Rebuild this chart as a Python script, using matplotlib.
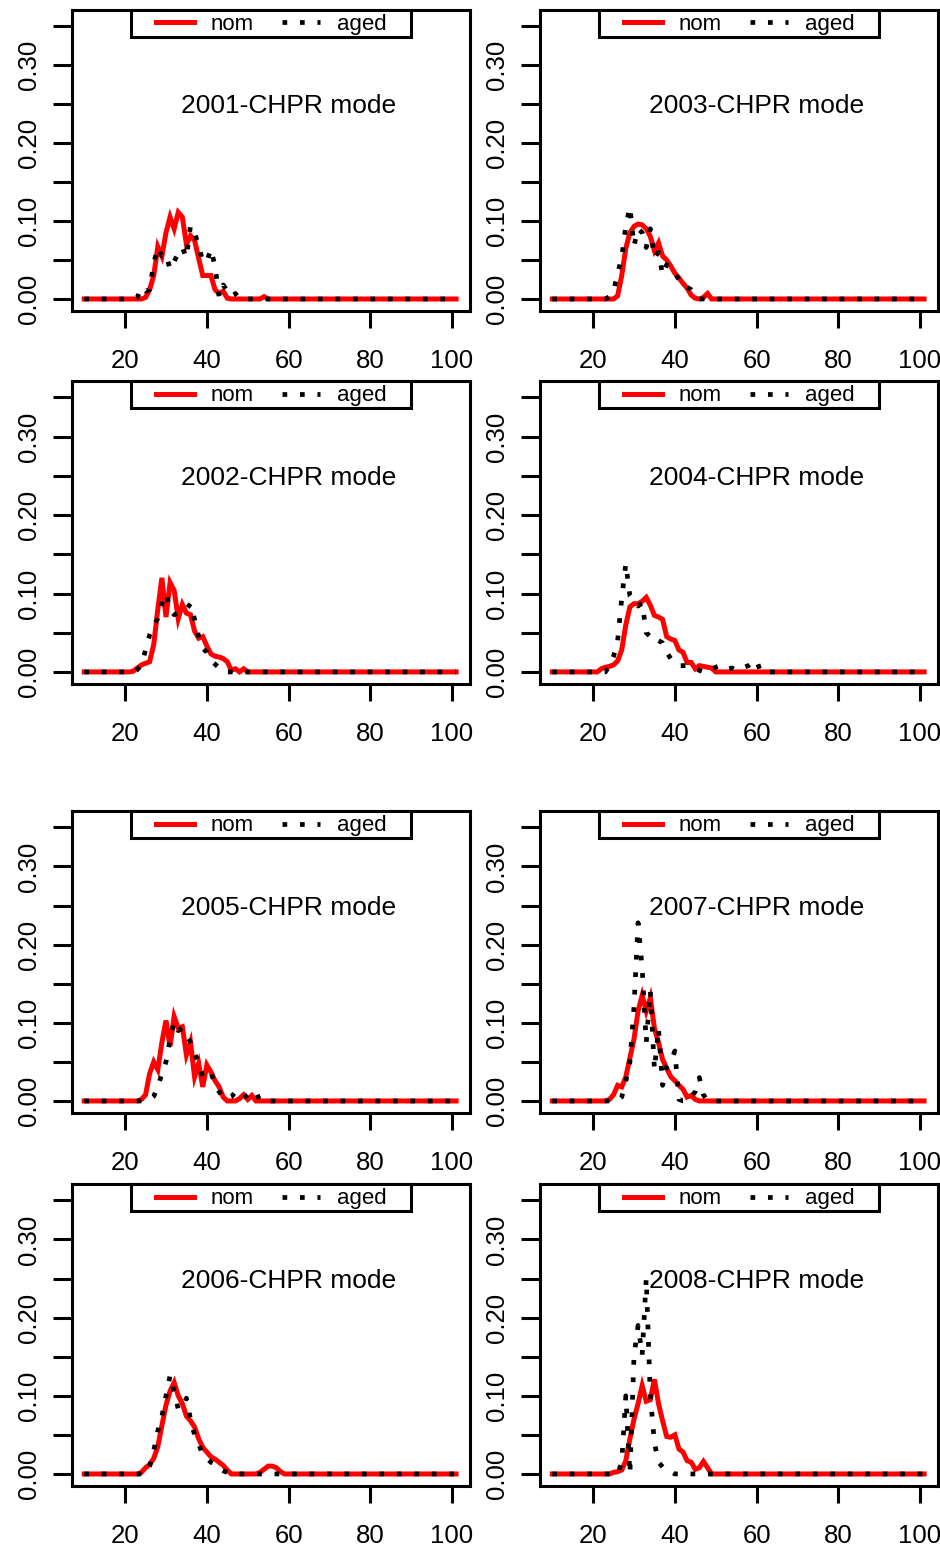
import numpy as np
import matplotlib
matplotlib.use('Agg')
import matplotlib.pyplot as plt
from matplotlib.patches import Rectangle

# length bins 10..101, values read for 20..60 (zero outside)
lengths = np.arange(10, 102)

nom_2001 = [0, 0, 0, 0, 0, 0.002, 0.012, 0.03, 0.067, 0.055, 0.085, 0.105, 0.09, 0.111, 0.105,
            0.07, 0.081, 0.075, 0.052, 0.03, 0.03, 0.03, 0.012, 0.007, 0.01, 0.001, 0, 0, 0, 0,
            0, 0, 0, 0, 0.003, 0, 0, 0, 0, 0, 0]
aged_2001 = [0, 0, 0, 0.002, 0.015, 0.01, 0.012, 0.046, 0.066, 0.055, 0.058, 0.038, 0.048, 0.059,
             0.066, 0.053, 0.094, 0.085, 0.068, 0.048, 0.048, 0.064, 0.042, 0.003, 0.018, 0.01,
             0.003, 0.007, 0, 0, 0, 0, 0, 0, 0, 0, 0, 0, 0, 0, 0]

nom_2003 = [0, 0, 0, 0, 0, 0, 0.004, 0.03, 0.065, 0.085, 0.093, 0.096, 0.095, 0.09, 0.08, 0.062,
            0.072, 0.055, 0.05, 0.042, 0.033, 0.027, 0.02, 0.014, 0.005, 0.001, 0, 0.002, 0.007,
            0, 0, 0, 0, 0, 0, 0, 0, 0, 0, 0, 0]
aged_2003 = [0, 0, 0, 0, 0.003, 0.01, 0.033, 0.053, 0.094, 0.118, 0.068, 0.09, 0.085, 0.066, 0.09,
             0.053, 0.06, 0.031, 0.044, 0.04, 0.033, 0.025, 0.016, 0.015, 0.012, 0.005, 0, 0, 0,
             0, 0, 0, 0, 0, 0, 0, 0, 0, 0, 0, 0]

nom_2002 = [0, 0, 0.001, 0.005, 0.009, 0.011, 0.013, 0.035, 0.08, 0.12, 0.07, 0.114, 0.104, 0.068,
            0.086, 0.075, 0.073, 0.052, 0.043, 0.045, 0.033, 0.023, 0.02, 0.019, 0.017, 0.013,
            0.002, 0.004, 0, 0.004, 0, 0, 0, 0, 0, 0, 0, 0, 0, 0, 0]
aged_2002 = [0, 0, 0, 0.003, 0.009, 0.028, 0.047, 0.06, 0.068, 0.087, 0.1, 0.079, 0.073, 0.075,
             0.076, 0.08, 0.087, 0.067, 0.045, 0.03, 0.025, 0.015, 0.01, 0.005, 0, 0, 0, 0, 0,
             0, 0, 0, 0, 0, 0, 0, 0, 0, 0, 0, 0]

nom_2004 = [0, 0, 0.004, 0.006, 0.007, 0.009, 0.014, 0.028, 0.06, 0.083, 0.087, 0.087, 0.09, 0.095,
            0.085, 0.072, 0.07, 0.067, 0.045, 0.042, 0.04, 0.028, 0.025, 0.012, 0.012, 0.004,
            0.008, 0.007, 0.006, 0.005, 0, 0, 0, 0, 0, 0, 0, 0, 0, 0, 0]
aged_2004 = [0, 0, 0, 0, 0.008, 0.02, 0.04, 0.094, 0.138, 0.097, 0.09, 0.084, 0.088, 0.05, 0.045,
             0.038, 0.04, 0.037, 0.025, 0.017, 0.012, 0.008, 0.008, 0.008, 0.007, 0.004, 0.002,
             0, 0, 0.003, 0.006, 0.008, 0.004, 0.004, 0.005, 0.002, 0.004, 0.006, 0.008, 0.012,
             0.015]

nom_2005 = [0, 0, 0, 0, 0.002, 0.008, 0.035, 0.05, 0.04, 0.075, 0.103, 0.07, 0.108, 0.093, 0.095,
            0.059, 0.075, 0.031, 0.048, 0.018, 0.046, 0.037, 0.026, 0.018, 0.005, 0, 0, 0, 0.003,
            0.008, 0.002, 0.007, 0, 0, 0, 0, 0, 0, 0, 0, 0]
aged_2005 = [0, 0, 0, 0, 0, 0, 0.002, 0.006, 0.018, 0.035, 0.05, 0.079, 0.101, 0.09, 0.093, 0.085,
             0.075, 0.06, 0.05, 0.031, 0.035, 0.037, 0.02, 0.012, 0.004, 0.003, 0.005, 0.012,
             0.008, 0.004, 0.008, 0.012, 0.012, 0, 0, 0, 0, 0, 0, 0, 0]

nom_2007 = [0, 0, 0, 0, 0.002, 0.008, 0.02, 0.018, 0.031, 0.055, 0.079, 0.115, 0.135, 0.115, 0.132,
            0.093, 0.075, 0.053, 0.042, 0.031, 0.026, 0.02, 0.015, 0.005, 0.007, 0.002, 0, 0, 0,
            0, 0, 0, 0, 0, 0, 0, 0, 0, 0, 0, 0]
aged_2007 = [0, 0, 0, 0, 0, 0, 0, 0.005, 0.025, 0.05, 0.12, 0.228, 0.17, 0.075, 0.141, 0.04, 0.093,
             0.02, 0.044, 0.05, 0.064, 0.002, 0, 0, 0.005, 0.012, 0.03, 0.008, 0, 0, 0, 0, 0, 0,
             0, 0, 0, 0, 0, 0, 0]

nom_2006 = [0, 0, 0, 0, 0.002, 0.008, 0.012, 0.02, 0.035, 0.062, 0.088, 0.106, 0.117, 0.1, 0.09,
            0.074, 0.068, 0.06, 0.045, 0.034, 0.028, 0.022, 0.019, 0.015, 0.011, 0.005, 0, 0, 0,
            0, 0, 0, 0, 0.002, 0.006, 0.01, 0.01, 0.008, 0.003, 0, 0]
aged_2006 = [0, 0, 0, 0, 0, 0, 0.01, 0.03, 0.055, 0.074, 0.1, 0.126, 0.105, 0.083, 0.085, 0.097,
             0.07, 0.05, 0.038, 0.025, 0.02, 0.015, 0.012, 0.007, 0.004, 0.002, 0, 0, 0, 0, 0, 0,
             0, 0, 0, 0, 0, 0, 0, 0, 0]

nom_2008 = [0, 0, 0, 0, 0, 0.002, 0.003, 0.005, 0.017, 0.045, 0.07, 0.09, 0.113, 0.093, 0.095,
            0.121, 0.09, 0.068, 0.048, 0.047, 0.05, 0.032, 0.028, 0.017, 0.015, 0.006, 0.008,
            0.016, 0.008, 0, 0, 0, 0, 0, 0, 0, 0, 0, 0, 0, 0]
aged_2008 = [0, 0, 0, 0, 0, 0, 0, 0.015, 0.1, 0.0, 0.15, 0.19, 0.152, 0.25, 0.1, 0.04, 0.015,
             0.009, 0.008, 0.003, 0, 0, 0, 0, 0, 0, 0, 0, 0, 0, 0, 0, 0, 0, 0, 0, 0, 0, 0, 0, 0]

# panel order: left column then right column, row by row
years = ['2001', '2003', '2002', '2004', '2005', '2007', '2006', '2008']
nom_series = [nom_2001, nom_2003, nom_2002, nom_2004, nom_2005, nom_2007, nom_2006, nom_2008]
aged_series = [aged_2001, aged_2003, aged_2002, aged_2004, aged_2005, aged_2007, aged_2006, aged_2008]

x_ticks = [20, 40, 60, 80, 100]
y_ticks = [0.0, 0.05, 0.10, 0.15, 0.20, 0.25, 0.30, 0.35]
y_labels = ['0.00', '', '0.10', '', '0.20', '', '0.30', '']


def full(vals):
    out = np.zeros(len(lengths))
    out[10:10 + len(vals)] = vals
    return out


plt.rcParams['font.family'] = 'Liberation Sans'

W, H = 940, 1549
fig = plt.figure(figsize=(W / 100, H / 100), dpi=100)

col_x = [72, 540]
box_w = 398
rows = [(9.5, 311), (381, 684), (811, 1113), (1184, 1486)]

for i, yr in enumerate(years):
    top, bot = rows[i // 2]
    left = col_x[i % 2]
    ax = fig.add_axes([left / W, 1 - bot / H, box_w / W, (bot - top) / H])

    ax.plot(lengths, full(nom_series[i]), color='red', lw=3.6, label='nom',
            solid_joinstyle='miter')
    ax.plot(lengths, full(aged_series[i]), color='black', lw=3.4,
            linestyle=(0, (1, 2.7)), label='aged')

    ax.set_xlim(7.0, 104.4)
    ax.set_ylim(-0.0154, 0.371)
    ax.set_xticks(x_ticks)
    ax.set_xticklabels([str(v) for v in x_ticks], fontsize=18.5)
    ax.set_yticks(y_ticks)
    ax.set_yticklabels(y_labels, rotation=90, va='center', fontsize=18.5)
    ax.tick_params(axis='x', length=12.2, width=2.2, pad=15)
    ax.tick_params(axis='y', length=13.7, width=2.2, pad=8.5)
    for s in ax.spines.values():
        s.set_linewidth(2.2)

    ax.text(60, 0.238, yr + '-CHPR mode', ha='center', va='baseline', fontsize=19)

    # legend box at top centre
    ax.add_patch(Rectangle((0.148, 0.91), 0.704, 0.09, transform=ax.transAxes,
                           facecolor='white', edgecolor='black', lw=2.2, zorder=4,
                           clip_on=False))
    ax.legend(loc='center', bbox_to_anchor=(0.5, 0.951), ncol=2, frameon=False,
              handlelength=1.72, handletextpad=0.75, columnspacing=1.25, borderpad=0,
              fontsize=16)

fig.savefig('out.png', dpi=100)
